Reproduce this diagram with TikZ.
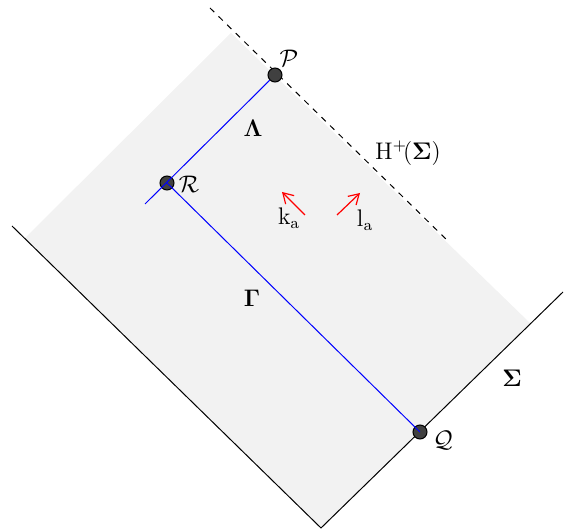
\documentclass[tikz,border=0pt]{standalone}
\usepackage{tikz}
\usetikzlibrary{arrows.meta, positioning}

\begin{document}
\begin{tikzpicture}[
            x=0.5pt, y=-0.5pt,
            >={Straight Barb[length=5pt, width=6pt]},
            ponto/.style={
                draw,
                circle,
                fill=black!75,
                inner sep=0pt,
                minimum size=7pt,
                line width=0.5pt
            },
            rotulo/.style={
                inner sep=1pt,
                font=\large
            },
            curva/.style={
                blue,
                line width=0.5pt
            },
            vetor/.style={
                ->,
                red,
                line width=0.6pt
            }
        ]
            \useasboundingbox (0,0) rectangle (564,529);

            % Regiao de dependencia (fundo cinza)
            \coordinate (cantoE) at (25,238);
            \coordinate (cantoT) at (231,33);
            \coordinate (cantoD) at (530,323);
            \coordinate (cantoB) at (321,528);
            \fill [black!5] (cantoE) -- (cantoT) -- (cantoD) -- (cantoB) -- cycle;

            % Superficie Sigma
            \coordinate (sigmaE) at (12,226);
            \coordinate (sigmaD) at (563,292);
            \draw [line width=0.5pt] (sigmaE) -- (cantoB) -- (sigmaD);

            % Horizonte de Cauchy
            \coordinate (horA) at (210,8);
            \coordinate (horB) at (450,243);
            \draw [dashed, line width=0.5pt] (horA) -- (horB);

            % Pontos
            \node [ponto] (P) at (275,75) {};
            \node [ponto] (R) at (167,183) {};
            \node [ponto] (Q) at (420,432) {};

            % Curvas Lambda e Gamma
            \coordinate (inicio) at (145,204);
            \draw [curva] (inicio) -- (P);
            \draw [curva] (R.center) -- (Q.center);

            % Vetores nulos
            \coordinate (kA) at (305,215);
            \coordinate (kB) at (282,192);
            \coordinate (lA) at (337,215);
            \coordinate (lB) at (360,193);
            \draw [vetor] (kA) -- (kB);
            \draw [vetor] (lA) -- (lB);

            % Rotulos
            \node [rotulo] (rotP) at (289,58) {$\mathcal{P}$};
            \node [rotulo] (rotR) at (189,184) {$\mathcal{R}$};
            \node [rotulo] (rotQ) at (443,440) {$\mathcal{Q}$};
            \node [rotulo] (rotLambda) at (253,128) {$\mathbf{\Lambda}$};
            \node [rotulo] (rotGamma) at (252,298) {$\mathbf{\Gamma}$};
            \node [rotulo] (rotSigma) at (512,378) {$\mathbf{\Sigma}$};
            \node [rotulo] (rotH) at (408,153) {$\mathrm{H}^{+}\!(\mathbf{\Sigma})$};
            \node [rotulo] (rotK) at (289,218) {$\mathrm{k}_{\mathrm{a}}$};
            \node [rotulo] (rotL) at (365,220) {$\mathrm{l}_{\mathrm{a}}$};
        \end{tikzpicture}
\end{document}
